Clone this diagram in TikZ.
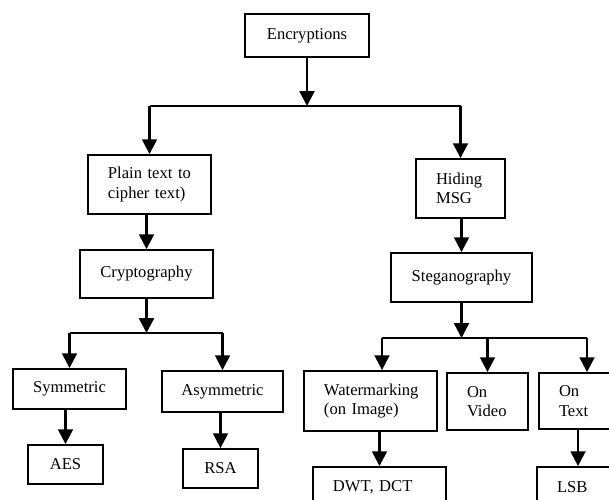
\documentclass[tikz,border=0pt]{standalone}
\usepackage{fontspec}
\setmainfont{Liberation Serif}
\usetikzlibrary{arrows.meta}
\tikzset{
  encbox/.style={draw, line width=1.3pt, inner sep=0pt, align=center,
    font=\fontsize{11.8}{13.8}\selectfont},
  leftbox/.style={encbox, align=left, inner xsep=0.5cm, text width=#1},
  flow/.style={line width=1.8pt, -{Triangle[length=10.5pt,width=10.5pt]}},
  bus/.style={line width=1.4pt}
}
\begin{document}
\begin{tikzpicture}[x=0.025cm, y=-0.025cm]
      \useasboundingbox (0,0) rectangle (609,499);
      \clip (0,0) rectangle (609,499);
      % Boxes
      \node[encbox, minimum width=3.1cm, minimum height=1.075cm] (enc) at (307,35.5) {Encryptions};
      \node[leftbox=2.075cm, minimum height=1.475cm] (plain) at (149.5,184.5) {Plain text to\\cipher text)};
      \node[leftbox=1.225cm, minimum height=1.475cm] (hide) at (460.5,188.5) {Hiding\\MSG};
      \node[encbox, minimum width=3.325cm, minimum height=1.2cm] (crypto) at (146.5,274) {Cryptography};
      \node[encbox, minimum width=3.525cm, minimum height=1.225cm] (steg) at (461.5,277.5) {Steganography};
      \node[encbox, minimum width=2.825cm, minimum height=1cm] (sym) at (69.5,389) {Symmetric};
      \node[encbox, minimum width=3.025cm, minimum height=1.025cm] (asym) at (222.5,391.5) {Asymmetric};
      \node[encbox, minimum width=1.875cm, minimum height=0.975cm] (aes) at (65.5,464.5) {AES};
      \node[encbox, minimum width=1.875cm, minimum height=0.975cm] (rsa) at (220.5,468.5) {RSA};
      \node[leftbox=2.325cm, minimum height=1.5cm] (water) at (370.5,401) {Watermarking\\(on Image)};
      \node[leftbox=1.025cm, minimum height=1.425cm] (video) at (487.5,401.5) {On\\Video};
      \node[leftbox=1.4cm, minimum height=1.4cm] (ontext) at (587,401) {On\\Text};
      \node[leftbox=2.325cm, minimum height=1cm] (dwt) at (379.5,487) {DWT, DCT};
      \node[leftbox=1.05cm, minimum height=1cm] (lsb) at (578,487) {LSB};

      % Junctions
      \coordinate (j1) at (enc |- 0,106);
      \coordinate (j1l) at (plain |- 0,106);
      \coordinate (j1r) at (hide |- 0,106);
      \coordinate (j2) at (crypto |- 0,333);
      \coordinate (j2l) at (sym |- 0,333);
      \coordinate (j2r) at (asym |- 0,333);
      \coordinate (j3) at (steg |- 0,338);
      \coordinate (j3l) at (382,338);
      \coordinate (j3m) at (video |- 0,338);
      \coordinate (j3r) at (ontext |- 0,338);

      \draw[flow] (enc) -- (j1);
      \draw[bus] (j1l) -- (j1r);
      \draw[flow] (j1l) -- (plain);
      \draw[flow] (j1r) -- (hide);

      \draw[flow] (crypto |- plain.south) -- (crypto);
      \draw[flow] (crypto) -- (j2);
      \draw[bus] (j2l) -- (j2r);
      \draw[flow] (j2l) -- (sym);
      \draw[flow] (j2r) -- (asym);
      \draw[flow] (aes |- sym.south) -- (aes);
      \draw[flow] (rsa |- asym.south) -- (rsa);

      \draw[flow] (steg |- hide.south) -- (steg);
      \draw[flow] (steg) -- (j3);
      \draw[bus] (j3l) -- (j3r);
      \draw[flow] (j3l) -- (j3l |- water.north);
      \draw[flow] (j3m) -- (video);
      \draw[flow] (j3r) -- (ontext);
      \draw[flow] (dwt |- water.south) -- (dwt);
      \draw[flow] (lsb |- ontext.south) -- (lsb);
    \end{tikzpicture}
\end{document}
